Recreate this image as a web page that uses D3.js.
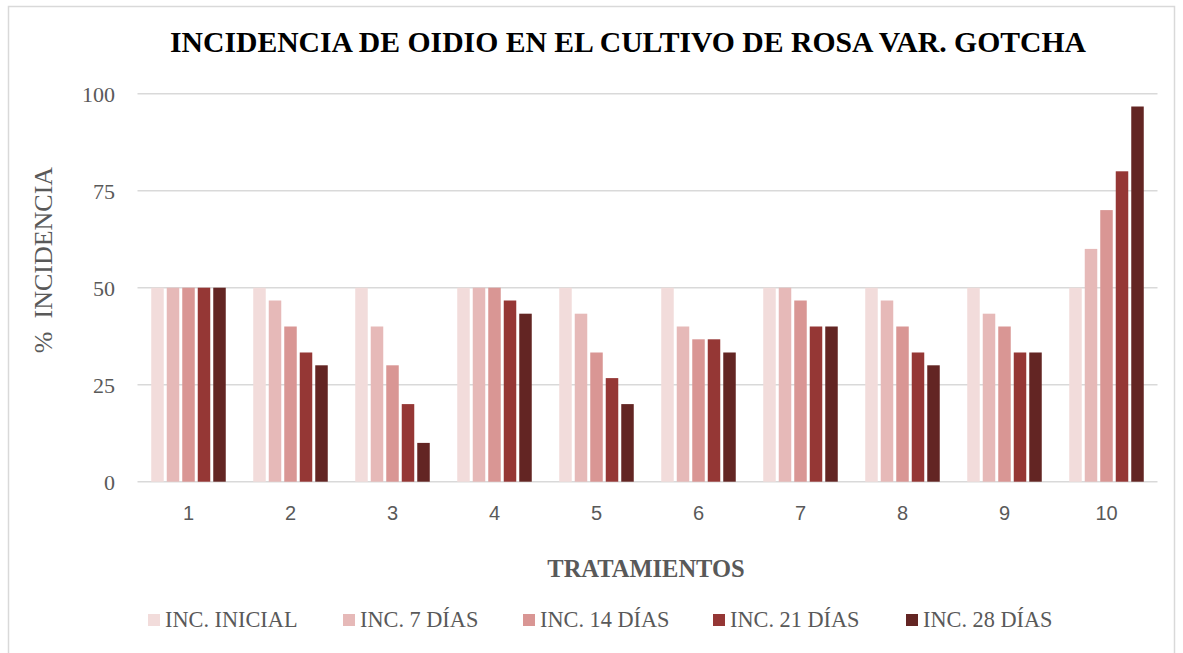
<!DOCTYPE html>
<html><head><meta charset="utf-8">
<script src="https://cdn.jsdelivr.net/npm/d3@7"></script>
<style>body{margin:0;background:#fff}svg{display:block}
.serif{font-family:"Liberation Serif","Times New Roman",serif}
.sans{font-family:"Liberation Sans",Arial,sans-serif}
</style>
</head><body>
<svg id="c" width="1183" height="653"></svg>
<script>
const categories = ["1","2","3","4","5","6","7","8","9","10"];
const seriesNames = ["INC. INICIAL","INC. 7 DÍAS","INC. 14 DÍAS","INC. 21 DÍAS","INC. 28 DÍAS"];
const incInicial = [50,50,50,50,50,50,50,50,50,50];
const inc7 = [50,46.7,40,50,43.3,40,50,46.7,43.3,60];
const inc14 = [50,40,30,50,33.3,36.7,46.7,40,40,70];
const inc21 = [50,33.3,20,46.7,26.7,36.7,40,33.3,33.3,80];
const inc28 = [50,30,10,43.3,20,33.3,40,30,33.3,96.7];
const yTicks = [0,25,50,75,100];
const colors = ["#F2DCDB","#E6B9B8","#D99694","#953735","#632523"];
const seriesValues = [incInicial, inc7, inc14, inc21, inc28];

const svg = d3.select("#c");
svg.append("rect").attr("x",8.5).attr("y",6.5).attr("width",1166).attr("height",660)
  .attr("fill","#fff").attr("stroke","#d9d9d9").attr("stroke-width",1.5);

const L=137.5, R=1157.5, T=93.7, B=481.7;
const x = d3.scaleBand().domain(categories).range([L,R]).paddingInner(0).paddingOuter(0);
const xs = d3.scaleBand().domain(d3.range(5)).range([0,x.bandwidth()]).paddingOuter(0.79).paddingInner(0);
const y = d3.scaleLinear().domain([0,100]).range([B,T]);

svg.append("g").selectAll("line").data(yTicks).join("line")
  .attr("x1",L).attr("x2",R).attr("y1",d=>y(d)).attr("y2",d=>y(d))
  .attr("stroke","#d9d9d9").attr("stroke-width",1.5);

const yAxis = d3.axisLeft(y).tickValues(yTicks).tickSize(0).tickPadding(0);
const gy = svg.append("g").attr("transform",`translate(115,0)`).call(yAxis);
gy.select(".domain").remove();
gy.selectAll("text").attr("class","serif").attr("font-family",null).attr("font-size",22).attr("fill","#595959").attr("dy","0.34em");

const xAxis = d3.axisBottom(x).tickSize(0).tickPadding(0);
const gx = svg.append("g").attr("transform",`translate(0,${B+24})`).call(xAxis);
gx.select(".domain").remove();
gx.selectAll("text").attr("class","sans").attr("font-family",null).attr("font-size",20).attr("fill","#595959").attr("dy","0.71em");

const gap = 3;
seriesValues.forEach((vals,si)=>{
  svg.append("g").selectAll("rect").data(vals).join("rect")
    .attr("x",(d,i)=>x(categories[i])+xs(si)+gap/2)
    .attr("width",xs.bandwidth()-gap)
    .attr("y",d=>y(d)).attr("height",d=>B-y(d))
    .attr("fill",colors[si]);
});

svg.append("text").attr("class","serif").attr("x",628).attr("y",52).attr("text-anchor","middle")
  .attr("font-weight","bold").attr("font-size",29.7).attr("fill","#000")
  .text("INCIDENCIA DE OIDIO EN EL CULTIVO DE ROSA VAR. GOTCHA");

svg.append("text").attr("class","serif").attr("x",646).attr("y",577).attr("text-anchor","middle")
  .attr("font-weight","bold").attr("font-size",24.5).attr("fill","#595959")
  .text("TRATAMIENTOS");

svg.append("text").attr("class","serif").attr("transform","translate(52,260) rotate(-90)").attr("text-anchor","middle")
  .attr("font-size",26).attr("fill","#595959").style("white-space","pre")
  .text("%  INCIDENCIA");

const legX = [148,343,523,713,906];
const lg = svg.append("g");
seriesNames.forEach((n,i)=>{
  lg.append("rect").attr("x",legX[i]).attr("y",614).attr("width",12).attr("height",12).attr("fill",colors[i]);
  lg.append("text").attr("class","serif").attr("x",legX[i]+17).attr("y",627).attr("font-size",22.3)
    .attr("fill","#595959").text(n);
});
</script>
</body></html>
